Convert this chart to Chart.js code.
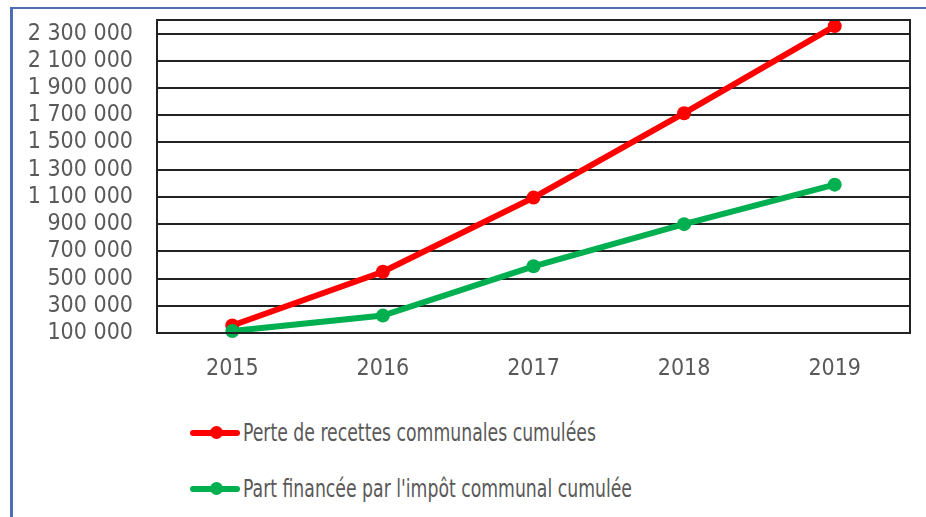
<!DOCTYPE html>
<html>
<head>
<meta charset="utf-8">
<script src="https://cdn.jsdelivr.net/npm/chart.js@4.4.1/dist/chart.umd.min.js"></script>
<style>
  body { margin: 0; background: #fff; }
  #frame {
    position: absolute; left: 10px; top: 7px; width: 916px; height: 510px;
    border-top: 2px solid #4e6db5; border-left: 3px solid #4e6db5;
    box-sizing: border-box;
  }
  #wrap { position: absolute; left: 0; top: 0; width: 926px; height: 400px; }
  #legend { position: absolute; left: 190px; top: 413px; }
  #legend ul { list-style: none; margin: 0; padding: 0; }
  #legend li { display: flex; align-items: center; height: 40px; margin-bottom: 16px; }
  .swatch { position: relative; width: 50px; height: 6px; border-radius: 3px; flex: none; }
  .swatch span { position: absolute; left: 20px; top: -4px; width: 13px; height: 13px; border-radius: 50%; }
  .txt {
    font-family: "DejaVu Sans Condensed", "DejaVu Sans", sans-serif;
    font-size: 24px; color: #595959; margin-left: 3px; white-space: nowrap;
    transform: scaleX(0.8); transform-origin: left center;
  }
</style>
</head>
<body>
<div id="frame"></div>
<div id="wrap"><canvas id="chart" width="926" height="400"></canvas></div>
<div id="legend"></div>
<script>
// Chart data
const years = ['2015', '2016', '2017', '2018', '2019'];
const perteRecettes = [155000, 550000, 1095000, 1715000, 2355000];
const partImpot = [115000, 228000, 590000, 900000, 1190000];
const yTicks = [100000, 300000, 500000, 700000, 900000, 1100000, 1300000, 1500000, 1700000, 1900000, 2100000, 2300000];

const labelFont = { family: '"DejaVu Sans Condensed", "DejaVu Sans", sans-serif', size: 23 };

function formatNumber(v) {
    return String(v).replace(/\B(?=(\d{3})+(?!\d))/g, ' ');
}

// draws the black box round the plot area
const plotBorder = {
    id: 'plotBorder',
    afterDraw(chart) {
        const a = chart.chartArea;
        const ctx = chart.ctx;
        ctx.save();
        ctx.strokeStyle = '#222';
        ctx.lineWidth = 2;
        ctx.strokeRect(a.left, a.top, a.right - a.left, a.bottom - a.top);
        ctx.restore();
    }
};

// legend built as html so the two entries stack
const htmlLegend = {
    id: 'htmlLegend',
    afterUpdate(chart) {
        const box = document.getElementById('legend');
        box.innerHTML = '';
        const ul = document.createElement('ul');
        chart.data.datasets.forEach(function(ds) {
            const li = document.createElement('li');
            const sw = document.createElement('div');
            sw.className = 'swatch';
            sw.style.background = ds.borderColor;
            const dot = document.createElement('span');
            dot.style.background = ds.borderColor;
            sw.appendChild(dot);
            const t = document.createElement('div');
            t.className = 'txt';
            t.textContent = ds.label;
            li.appendChild(sw);
            li.appendChild(t);
            ul.appendChild(li);
        });
        box.appendChild(ul);
    }
};

const ctx = document.getElementById('chart').getContext('2d');
const chart = new Chart(ctx, {
    type: 'line',
    data: {
        labels: years,
        datasets: [
            {
                label: 'Perte de recettes communales cumulées',
                data: perteRecettes,
                borderColor: '#ff0000',
                backgroundColor: '#ff0000',
                borderWidth: 6,
                pointRadius: 7,
                pointBorderWidth: 0,
                tension: 0,
                order: 2
            },
            {
                label: "Part financée par l'impôt communal cumulée",
                data: partImpot,
                borderColor: '#00b050',
                backgroundColor: '#00b050',
                borderWidth: 6,
                pointRadius: 7,
                pointBorderWidth: 0,
                tension: 0,
                order: 1
            }
        ]
    },
    options: {
        responsive: false,
        animation: false,
        clip: false,
        layout: { padding: { left: 0, top: 20, right: 16, bottom: 0 } },
        scales: {
            x: {
                offset: true,
                grid: { display: false, drawTicks: false },
                border: { display: false },
                ticks: { color: '#595959', font: labelFont, padding: 22 },
                afterFit: function(scale) {
                    scale.height = 67;
                    scale.paddingLeft = 0;
                    scale.paddingRight = 0;
                }
            },
            y: {
                min: 100000,
                max: 2400000,
                grid: { color: '#222', lineWidth: 2, drawTicks: false },
                border: { display: false },
                ticks: {
                    autoSkip: false,
                    color: '#595959',
                    font: labelFont,
                    padding: 24,
                    callback: function(v) { return formatNumber(v); }
                },
                afterBuildTicks: function(scale) {
                    scale.ticks = yTicks.map(v => ({ value: v }));
                },
                afterFit: function(scale) {
                    scale.width = 157;
                    scale.paddingTop = 0;
                    scale.paddingBottom = 0;
                }
            }
        },
        plugins: {
            legend: { display: false },
            tooltip: { enabled: false }
        }
    },
    plugins: [plotBorder, htmlLegend]
});
</script>
</body>
</html>
